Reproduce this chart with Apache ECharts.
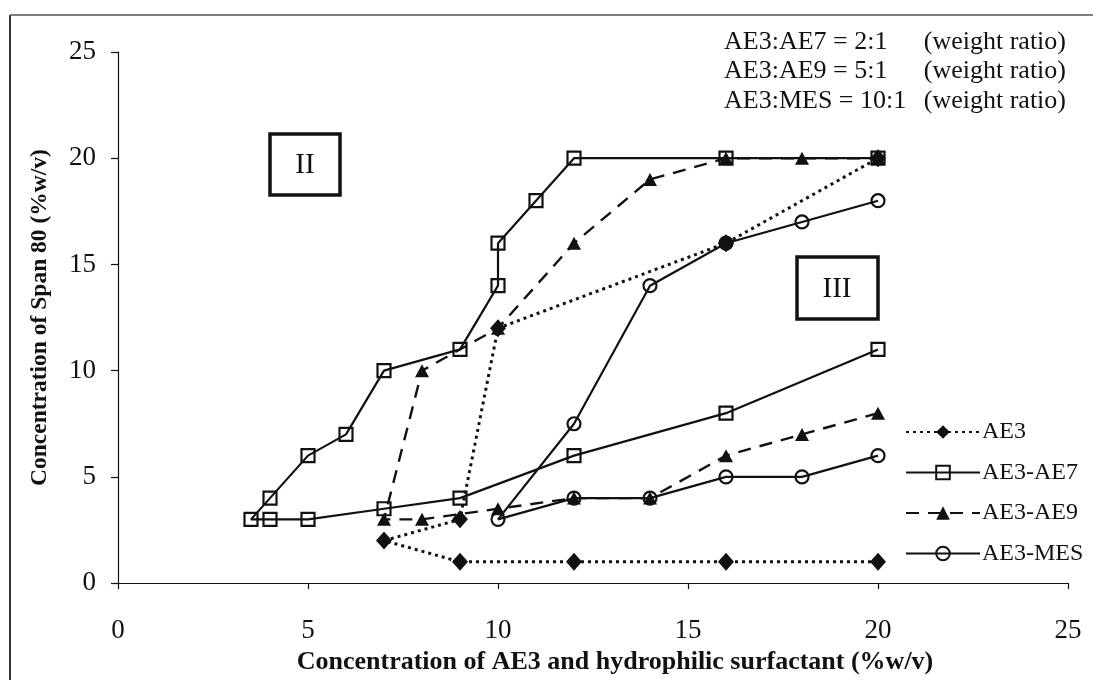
<!DOCTYPE html>
<html>
<head>
<meta charset="utf-8">
<script src="https://cdn.jsdelivr.net/npm/echarts@6/dist/echarts.min.js"></script>
<style>
  html, body { margin: 0; padding: 0; background: #ffffff; }
  #chart { width: 1097px; height: 680px; }
</style>
</head>
<body>
<div id="chart"></div>
<script>
// Phase boundaries: concentration of Span 80 vs. AE3 + hydrophilic surfactant (%w/v).
// Each series is traced as one polyline: lower boundary, then back up the upper boundary.
const seriesNames = ['AE3', 'AE3-AE7', 'AE3-AE9', 'AE3-MES'];

const ae3X = [20, 16, 12, 9, 7, 9, 10, 16, 20];
const ae3Y = [1, 1, 1, 1, 2, 3, 12, 16, 20];

const ae7X = [20, 16, 12, 9, 7, 5, 4, 3.5, 4, 5, 6, 7, 9, 10, 10, 11, 12, 16, 20];
const ae7Y = [11, 8, 6, 4, 3.5, 3, 3, 3, 4, 6, 7, 10, 11, 14, 16, 18, 20, 20, 20];

const ae9X = [20, 18, 16, 14, 12, 10, 8, 7, 8, 10, 12, 14, 16, 18, 20];
const ae9Y = [8, 7, 6, 4, 4, 3.5, 3, 3, 10, 12, 16, 19, 20, 20, 20];

const mesX = [20, 18, 16, 14, 12, 10, 12, 14, 16, 18, 20];
const mesY = [6, 5, 5, 4, 4, 3, 7.5, 14, 16, 17, 18];

const xTicks = [0, 5, 10, 15, 20, 25];
const yTicks = [0, 5, 10, 15, 20, 25];

const ratioLabels = ['AE3:AE7 = 2:1', 'AE3:AE9 = 5:1', 'AE3:MES = 10:1'];
const ratioUnit = '(weight ratio)';
const regionLabels = ['II', 'III'];

const pairs = (xs, ys) => xs.map((x, i) => [x, ys[i]]);

const serif = '"Liberation Serif", "DejaVu Serif", serif';
const ink = '#111111';

const baseSeries = {
  type: 'line',
  showSymbol: true,
  symbolKeepAspect: true,
  animation: false,
  z: 3
};

const chart = echarts.init(document.getElementById('chart'), null, { renderer: 'canvas' });

const option = {
  backgroundColor: '#ffffff',
  animation: false,
  grid: { left: 118, right: 29, top: 52, bottom: 94, containLabel: false },
  xAxis: {
    type: 'value',
    min: xTicks[0],
    max: xTicks[xTicks.length - 1],
    interval: xTicks[1] - xTicks[0],
    name: 'Concentration of AE3 and hydrophilic surfactant (%w/v)',
    nameLocation: 'middle',
    nameGap: 58,
    nameTextStyle: { fontFamily: serif, fontWeight: 'bold', fontSize: 26, color: ink, padding: [0, 0, 0, 44] },
    axisLine: { show: true, onZero: false, lineStyle: { color: ink, width: 1.2 } },
    axisTick: { show: true, inside: false, length: 6, lineStyle: { color: ink, width: 1.2 } },
    axisLabel: { margin: 34, fontFamily: serif, fontSize: 27, color: ink },
    splitLine: { show: false }
  },
  yAxis: {
    type: 'value',
    min: yTicks[0],
    max: yTicks[yTicks.length - 1],
    interval: yTicks[1] - yTicks[0],
    name: 'Concentration of Span 80 (%w/v)',
    nameLocation: 'middle',
    nameGap: 66,
    nameRotate: 90,
    nameTextStyle: { fontFamily: serif, fontWeight: 'bold', fontSize: 23.5, color: ink },
    axisLine: { show: true, onZero: false, lineStyle: { color: ink, width: 1.2 } },
    axisTick: { show: true, inside: false, length: 7, lineStyle: { color: ink, width: 1.2 } },
    axisLabel: { margin: 22, fontFamily: serif, fontSize: 27, color: ink },
    splitLine: { show: false }
  },
  legend: {
    orient: 'vertical',
    left: 900,
    top: 415,
    itemWidth: 74,
    itemHeight: 17,
    itemGap: 16.5,
    data: seriesNames,
    textStyle: { fontFamily: serif, fontSize: 24, color: ink, padding: [0, 0, 0, -3] },
    selectedMode: false
  },
  series: [
    Object.assign({}, baseSeries, {
      name: seriesNames[0],
      data: pairs(ae3X, ae3Y),
      symbol: 'diamond',
      symbolSize: [16, 18],
      itemStyle: { color: ink, borderColor: ink, borderWidth: 0 },
      lineStyle: { color: ink, width: 3, type: [3, 4] }
    }),
    Object.assign({}, baseSeries, {
      name: seriesNames[1],
      data: pairs(ae7X, ae7Y),
      symbol: 'rect',
      symbolSize: 13,
      itemStyle: { color: 'rgba(255,255,255,0)', borderColor: ink, borderWidth: 2.2 },
      lineStyle: { color: ink, width: 2.2, type: 'solid' }
    }),
    Object.assign({}, baseSeries, {
      name: seriesNames[2],
      data: pairs(ae9X, ae9Y),
      symbol: 'triangle',
      symbolSize: [14, 13],
      itemStyle: { color: ink, borderColor: ink, borderWidth: 0 },
      lineStyle: { color: ink, width: 2.4, type: [13, 9] }
    }),
    Object.assign({}, baseSeries, {
      name: seriesNames[3],
      data: pairs(mesX, mesY),
      symbol: 'circle',
      symbolSize: 13,
      itemStyle: { color: 'rgba(255,255,255,0)', borderColor: ink, borderWidth: 2.2 },
      lineStyle: { color: ink, width: 2.2, type: 'solid' }
    })
  ],
  graphic: [
    // frame edges
    { type: 'line', shape: { x1: 10, y1: 15, x2: 10, y2: 680 }, style: { stroke: '#333333', lineWidth: 2 }, silent: true },
    { type: 'line', shape: { x1: 10, y1: 15, x2: 1093, y2: 15 }, style: { stroke: '#555555', lineWidth: 1.5 }, silent: true },
    // weight ratio notes
    ...ratioLabels.map((t, i) => ({
      type: 'text', x: 724, y: 42 + i * 29.5,
      style: { text: t, fontFamily: serif, fontSize: 26, fill: ink, textVerticalAlign: 'middle' }
    })),
    ...ratioLabels.map((t, i) => ({
      type: 'text', x: 1066, y: 42 + i * 29.5,
      style: { text: ratioUnit, fontFamily: serif, fontSize: 26, fill: ink, textAlign: 'right', textVerticalAlign: 'middle' }
    })),
    // region boxes
    { type: 'rect', shape: { x: 270, y: 134, width: 70, height: 61 }, style: { fill: 'none', stroke: ink, lineWidth: 3.5 }, silent: true },
    { type: 'text', x: 305, y: 165, style: { text: regionLabels[0], fontFamily: serif, fontSize: 29, fill: ink, textAlign: 'center', textVerticalAlign: 'middle' } },
    { type: 'rect', shape: { x: 797, y: 257, width: 81, height: 62 }, style: { fill: 'none', stroke: ink, lineWidth: 3.5 }, silent: true },
    { type: 'text', x: 837, y: 289, style: { text: regionLabels[1], fontFamily: serif, fontSize: 29, fill: ink, textAlign: 'center', textVerticalAlign: 'middle' } }
  ]
};

chart.setOption(option);
</script>
</body>
</html>
